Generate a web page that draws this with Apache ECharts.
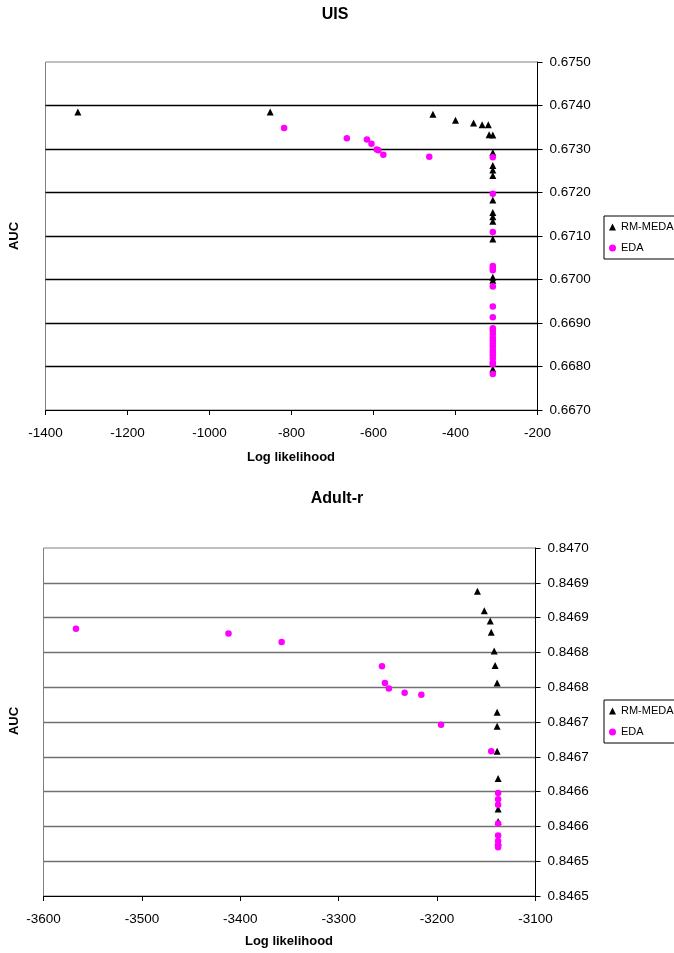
<!DOCTYPE html>
<html>
<head>
<meta charset="utf-8">
<script src="https://cdn.jsdelivr.net/npm/echarts@6/dist/echarts.min.js"></script>
<style>
  html, body { margin: 0; padding: 0; background: #fff; }
  #chart { width: 674px; height: 953px; }
</style>
</head>
<body>
<div id="chart"></div>
<script>
// UIS data: [log likelihood, AUC]
const uisRmMeda = [
  [-1321, 0.67385], [-852, 0.67385], [-455, 0.67380], [-400, 0.67366],
  [-356, 0.67360], [-335, 0.67356], [-320, 0.67356], [-318, 0.67333],
  [-309, 0.67332], [-309, 0.67292], [-309, 0.67262], [-309, 0.67252],
  [-309, 0.67239], [-309, 0.67183], [-309, 0.67154], [-309, 0.67144],
  [-309, 0.67134], [-309, 0.67093], [-309, 0.67005], [-309, 0.66998],
  [-309, 0.66794]
]
const uisEda = [
  [-818, 0.67348], [-665, 0.67325], [-616, 0.67322], [-605, 0.67312],
  [-592, 0.67299], [-588, 0.67297], [-576, 0.67287], [-464, 0.67282],
  [-309, 0.67281], [-309, 0.67197], [-309, 0.67109], [-309, 0.67031],
  [-309, 0.67026], [-309, 0.67021], [-309, 0.66984], [-309, 0.66938],
  [-309, 0.66913], [-309, 0.66888], [-309, 0.66882], [-309, 0.66875],
  [-309, 0.66866], [-309, 0.66860], [-309, 0.66853], [-309, 0.66846],
  [-309, 0.66838], [-309, 0.66832], [-309, 0.66826], [-309, 0.66819],
  [-309, 0.66810], [-309, 0.66805], [-309, 0.66783]
]

// Adult-r data
const adultRmMeda = [
  [-3159, 0.846938], [-3152, 0.846910], [-3146, 0.846895], [-3145, 0.846879],
  [-3142, 0.846852], [-3141, 0.846831], [-3139, 0.846806], [-3139, 0.846764],
  [-3139, 0.846744], [-3139, 0.846708], [-3138, 0.846669], [-3138, 0.846625],
  [-3138, 0.846607], [-3138, 0.846578]
]
const adultEda = [
  [-3567, 0.846884], [-3412, 0.846877], [-3358, 0.846865], [-3256, 0.846830],
  [-3253, 0.846806], [-3249, 0.846798], [-3233, 0.846792], [-3216, 0.846789],
  [-3196, 0.846746], [-3145, 0.846708], [-3138, 0.846648], [-3138, 0.846639],
  [-3138, 0.846631], [-3138, 0.846604], [-3138, 0.846587], [-3138, 0.846579],
  [-3138, 0.846573], [-3138, 0.846570]
]

// tick labels as printed (bottom to top)
const adultYLabels = ['0.8465', '0.8465', '0.8466', '0.8466', '0.8467', '0.8467',
  '0.8468', '0.8468', '0.8469', '0.8469', '0.8470']

const FONT = 'Liberation Sans, Arial, sans-serif'
const chart = echarts.init(document.getElementById('chart'))

function xAxisOf(gridIndex, min, max, interval) {
  return {
    type: 'value', gridIndex, min, max, interval,
    axisLine: { show: true, onZero: false, lineStyle: { color: '#000', width: 1 } },
    axisTick: { show: true, length: 5, lineStyle: { color: '#000' } },
    axisLabel: { color: '#000', fontSize: 13.5, fontFamily: FONT, margin: 16, formatter: v => String(v) },
    splitLine: { show: false }
  }
}

function yAxisOf(gridIndex, min, max, interval, lineColor, formatter) {
  return {
    type: 'value', gridIndex, min, max, interval, position: 'right',
    axisLine: { show: true, onZero: false, lineStyle: { color: '#000', width: 1 } },
    axisTick: { show: true, length: 5, lineStyle: { color: '#000' } },
    axisLabel: { color: '#000', fontSize: 13.5, fontFamily: FONT, margin: 12, formatter },
    splitLine: { show: true, showMinLine: false, showMaxLine: false, lineStyle: { color: lineColor, width: 1.3 } }
  }
}

const tri = { symbol: 'triangle', symbolSize: 7, itemStyle: { color: '#000', opacity: 1 } }
const dot = { symbol: 'circle', symbolSize: 6.5, itemStyle: { color: '#ff00ff', opacity: 1 } }

function legendOf(top) {
  return {
    orient: 'vertical', left: 604, top,
    padding: [4, 10, 4, 5], itemGap: 7, itemWidth: 7, itemHeight: 7,
    borderColor: '#000', borderWidth: 1, backgroundColor: '#fff',
    textStyle: { fontSize: 11, fontFamily: FONT, color: '#000', lineHeight: 14 },
    data: [{ name: 'RM-MEDA', icon: 'triangle' }, { name: 'EDA', icon: 'circle' }]
  }
}

function label(text, x, y, size, rotation) {
  return {
    type: 'text', x, y, rotation: rotation || 0,
    style: { text, font: 'bold ' + size + 'px ' + FONT, fill: '#000', textAlign: 'center', textVerticalAlign: 'middle' }
  }
}

chart.setOption({
  animation: false,
  grid: [
    { left: 45.5, top: 62, width: 492, height: 348, show: true, borderColor: '#808080', borderWidth: 1 },
    { left: 43.5, top: 548, width: 492, height: 348, show: true, borderColor: '#808080', borderWidth: 1 }
  ],
  xAxis: [
    xAxisOf(0, -1400, -200, 200),
    xAxisOf(1, -3600, -3100, 100)
  ],
  yAxis: [
    yAxisOf(0, 0.667, 0.675, 0.001, '#000', v => v.toFixed(4)),
    yAxisOf(1, 0.8465, 0.847, 0.00005, '#707070',
      v => adultYLabels[Math.round((v - 0.8465) / 0.00005)])
  ],
  legend: [legendOf(216), legendOf(700)],
  series: [
    Object.assign({ type: 'scatter', name: 'RM-MEDA', xAxisIndex: 0, yAxisIndex: 0, data: uisRmMeda }, tri),
    Object.assign({ type: 'scatter', name: 'EDA', xAxisIndex: 0, yAxisIndex: 0, data: uisEda }, dot),
    Object.assign({ type: 'scatter', name: 'RM-MEDA', xAxisIndex: 1, yAxisIndex: 1, data: adultRmMeda }, tri),
    Object.assign({ type: 'scatter', name: 'EDA', xAxisIndex: 1, yAxisIndex: 1, data: adultEda }, dot)
  ],
  graphic: [
    label('UIS', 335, 15, 16),
    label('Log likelihood', 291, 457, 13),
    label('AUC', 14, 236, 13, Math.PI / 2),
    label('Adult-r', 337, 499, 16),
    label('Log likelihood', 289, 941, 13),
    label('AUC', 14, 721, 13, Math.PI / 2)
  ]
})
</script>
</body>
</html>
